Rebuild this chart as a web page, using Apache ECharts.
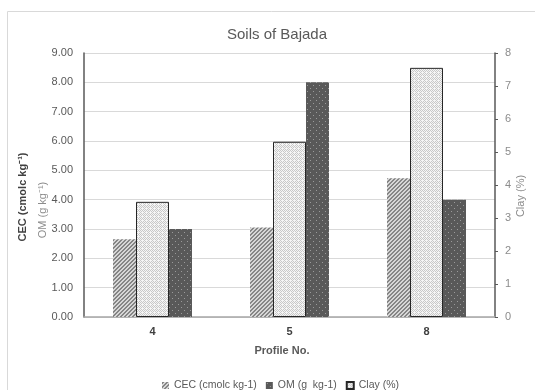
<!DOCTYPE html>
<html>
<head>
<meta charset="utf-8">
<script src="https://cdn.jsdelivr.net/npm/echarts@6/dist/echarts.min.js"></script>
<style>
  html, body { margin: 0; padding: 0; background: #fff; }
  #chart { width: 535px; height: 390px; }
</style>
</head>
<body>
<div id="chart"></div>
<script>
const profiles = ['4', '5', '8']
const cec = [2.65, 3.05, 4.73]
const om = [3.0, 8.0, 4.0]
const clay = [3.49, 5.31, 7.55]
const leftTicks = [0, 9, 1]
const rightTicks = [0, 8, 1]

const font = 'Liberation Sans, Arial, sans-serif'
const textGray = '#595959'

// small canvas tiles to fake the Excel fill patterns
const makePattern = (size, bg, dark, test) => {
  const c = document.createElement('canvas')
  c.width = size
  c.height = size
  const ctx = c.getContext('2d')
  ctx.fillStyle = bg
  ctx.fillRect(0, 0, size, size)
  ctx.fillStyle = dark
  for (let y = 0; y < size; y++) {
    for (let x = 0; x < size; x++) {
      if (test(x, y)) ctx.fillRect(x, y, 1, 1)
    }
  }
  return { image: c, repeat: 'repeat' }
}

const hatch = makePattern(4, '#d6d6d6', '#858585', (x, y) => (x + y) % 4 < 2)
const dots = makePattern(6, '#595959', '#9a9a9a', (x, y) => (x === 1 && y === 1) || (x === 4 && y === 4))
const speckle = makePattern(4, '#f5f5f5', '#c8c8c8', (x, y) => (x + y) % 2 === 0 && !(x === 2 && y === 0))

const chart = echarts.init(document.getElementById('chart'))

chart.setOption({
  animation: false,
  textStyle: { fontFamily: font },
  title: {
    text: 'Soils of Bajada',
    left: 272,
    top: 22,
    textAlign: 'center',
    textStyle: { color: textGray, fontSize: 15, fontWeight: 'normal', fontFamily: font }
  },
  legend: {
    data: ['CEC (cmolc kg-1)', 'OM (g  kg-1)', 'Clay (%)'],
    icon: 'rect',
    left: 157,
    top: 375,
    itemWidth: 7,
    itemHeight: 7,
    itemGap: 9,
    textStyle: { color: textGray, fontSize: 10.5 }
  },
  grid: { left: 84, right: 40, top: 53, bottom: 73 },
  xAxis: {
    type: 'category',
    data: profiles,
    axisLine: { lineStyle: { color: '#a6a6a6', width: 1.5 } },
    axisTick: { show: false },
    axisLabel: { color: '#404040', fontWeight: 'bold', fontSize: 11, margin: 9 }
  },
  yAxis: [
    {
      type: 'value',
      min: leftTicks[0],
      max: leftTicks[1],
      interval: leftTicks[2],
      axisLine: { show: true, lineStyle: { color: textGray, width: 1.5 } },
      axisTick: { show: false },
      axisLabel: { color: textGray, fontSize: 11, margin: 11, formatter: v => v.toFixed(2) },
      splitLine: { lineStyle: { color: '#d9d9d9' } }
    },
    {
      type: 'value',
      min: rightTicks[0],
      max: rightTicks[1],
      interval: rightTicks[2],
      position: 'right',
      axisLine: { show: true, lineStyle: { color: textGray, width: 1.5 } },
      axisTick: { show: true, length: 3, lineStyle: { color: textGray } },
      axisLabel: { color: '#8c8c8c', fontSize: 11, margin: 10 },
      splitLine: { show: false }
    }
  ],
  series: [
    {
      name: 'CEC (cmolc kg-1)',
      type: 'bar',
      data: cec,
      barWidth: 23,
      barGap: '0%',
      itemStyle: { color: hatch }
    },
    {
      name: 'Clay (%)',
      type: 'bar',
      yAxisIndex: 1,
      data: clay,
      barWidth: 33,
      barGap: '0%',
      itemStyle: { color: speckle, borderColor: '#262626', borderWidth: 1 }
    },
    {
      name: 'OM (g  kg-1)',
      type: 'bar',
      data: om,
      barWidth: 23,
      barGap: '0%',
      itemStyle: { color: dots }
    }
  ],
  graphic: [
    {
      type: 'rect',
      shape: { x: 7.5, y: 11.5, width: 600, height: 500 },
      style: { fill: 'none', stroke: '#d9d9d9', lineWidth: 1 },
      silent: true
    },
    {
      type: 'text',
      x: 23, y: 197, rotation: Math.PI / 2,
      style: { text: 'CEC (cmolc kg⁻¹)', fill: '#404040', font: 'bold 11px ' + font, align: 'center', verticalAlign: 'middle' }
    },
    {
      type: 'text',
      x: 43, y: 210, rotation: Math.PI / 2,
      style: { text: 'OM (g kg⁻¹)', fill: '#8c8c8c', font: '11px ' + font, align: 'center', verticalAlign: 'middle' }
    },
    {
      type: 'text',
      x: 521, y: 196, rotation: Math.PI / 2,
      style: { text: 'Clay (%)', fill: '#8c8c8c', font: '11px ' + font, align: 'center', verticalAlign: 'middle' }
    },
    {
      type: 'text',
      x: 282, y: 351,
      style: { text: 'Profile No.', fill: textGray, font: 'bold 11px ' + font, align: 'center', verticalAlign: 'middle' }
    }
  ]
})
</script>
</body>
</html>
